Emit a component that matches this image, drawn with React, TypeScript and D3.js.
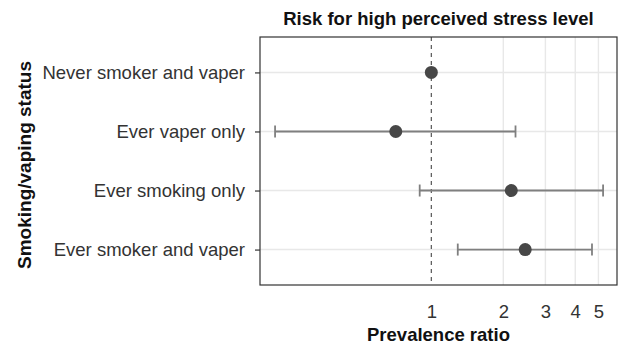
import React, { useRef, useEffect } from 'react';
import * as d3 from 'd3';

const groups = ['Never smoker and vaper', 'Ever vaper only', 'Ever smoking only', 'Ever smoker and vaper'];
const ratios = [1, 0.71, 2.16, 2.47];
const lower = [1, 0.222, 0.894, 1.29];
const upper = [1, 2.25, 5.23, 4.7];
const xTicks = [1, 2, 3, 4, 5];

const W = 622;
const H = 346;

const App = () => {
  const ref = useRef<SVGSVGElement>(null);

  useEffect(() => {
    if (!ref.current) return;
    const svg = d3.select(ref.current);
    svg.selectAll('*').remove();

    const margin = { top: 37, right: 5, bottom: 61, left: 260 };
    const width = W - margin.left - margin.right;
    const height = H - margin.top - margin.bottom;
    const font = 'Liberation Sans, Arial, Helvetica, sans-serif';
    const fs = 18.5;

    const x = d3.scaleLog().domain([0.192, 5.98]).range([0, width]);
    const y = d3.scalePoint<string>().domain(groups).range([0, height]).padding(0.6);

    const g = svg.append('g').attr('transform', `translate(${margin.left},${margin.top})`);

    // grid
    g.selectAll('.vgrid')
      .data(xTicks.filter(d => d !== 1))
      .enter()
      .append('line')
      .attr('x1', d => x(d)).attr('x2', d => x(d))
      .attr('y1', 0).attr('y2', height)
      .attr('stroke', '#e8e8e8').attr('stroke-width', 1.4);

    g.selectAll('.hgrid')
      .data(groups)
      .enter()
      .append('line')
      .attr('x1', 0).attr('x2', width)
      .attr('y1', d => y(d)!).attr('y2', d => y(d)!)
      .attr('stroke', '#e8e8e8').attr('stroke-width', 1.4);

    // reference line
    g.append('line')
      .attr('x1', x(1)).attr('x2', x(1))
      .attr('y1', 0).attr('y2', height)
      .attr('stroke', '#555').attr('stroke-width', 1.2)
      .attr('stroke-dasharray', '4,4');

    const rows = groups.map((name, i) => ({ name, est: ratios[i], lo: lower[i], hi: upper[i] }));
    const withCI = rows.filter(d => d.lo !== d.hi);

    g.selectAll('.ci')
      .data(withCI)
      .enter()
      .append('line')
      .attr('x1', d => x(d.lo)).attr('x2', d => x(d.hi))
      .attr('y1', d => y(d.name)!).attr('y2', d => y(d.name)!)
      .attr('stroke', '#7f7f7f').attr('stroke-width', 1.8);

    ['lo', 'hi'].forEach(k => {
      g.selectAll('.cap-' + k)
        .data(withCI)
        .enter()
        .append('line')
        .attr('x1', d => x(d[k])).attr('x2', d => x(d[k]))
        .attr('y1', d => y(d.name)! - 6).attr('y2', d => y(d.name)! + 6)
        .attr('stroke', '#7f7f7f').attr('stroke-width', 1.8);
    });

    g.selectAll('.pt')
      .data(rows)
      .enter()
      .append('circle')
      .attr('cx', d => x(d.est))
      .attr('cy', d => y(d.name)!)
      .attr('r', 6.5)
      .attr('fill', '#474747');

    // border
    g.append('rect')
      .attr('width', width).attr('height', height)
      .attr('fill', 'none').attr('stroke', '#333').attr('stroke-width', 1.2);

    // axes
    const xAxis = g.append('g')
      .attr('transform', `translate(0,${height})`)
      .call(d3.axisBottom(x).tickValues(xTicks).tickFormat(d3.format('d')).tickSize(0).tickPadding(20));
    xAxis.select('.domain').remove();
    xAxis.selectAll('text').attr('font-size', fs).attr('font-family', font).attr('fill', '#333');

    const yAxis = g.append('g')
      .call(d3.axisLeft(y).tickSize(5).tickPadding(10));
    yAxis.select('.domain').remove();
    yAxis.selectAll('line').attr('stroke', '#333').attr('stroke-width', 1.2);
    yAxis.selectAll('text').attr('font-size', fs).attr('font-family', font).attr('fill', '#333');

    svg.append('text')
      .attr('x', margin.left + width / 2).attr('y', 25)
      .attr('text-anchor', 'middle')
      .attr('font-family', font).attr('font-weight', 'bold').attr('font-size', fs)
      .attr('fill', '#111')
      .text('Risk for high perceived stress level');

    svg.append('text')
      .attr('x', margin.left + width / 2).attr('y', 341)
      .attr('text-anchor', 'middle')
      .attr('font-family', font).attr('font-weight', 'bold').attr('font-size', fs)
      .attr('fill', '#111')
      .text('Prevalence ratio');

    svg.append('text')
      .attr('transform', `translate(31,${margin.top + height / 2 + 4}) rotate(-90)`)
      .attr('text-anchor', 'middle')
      .attr('font-family', font).attr('font-weight', 'bold').attr('font-size', 19)
      .attr('fill', '#111')
      .text('Smoking/vaping status');
  }, []);

  return <svg ref={ref} width={W} height={H} style={{ display: 'block', position: 'absolute', left: 0, top: 0, background: '#fff' }} />;
};

export default App;
